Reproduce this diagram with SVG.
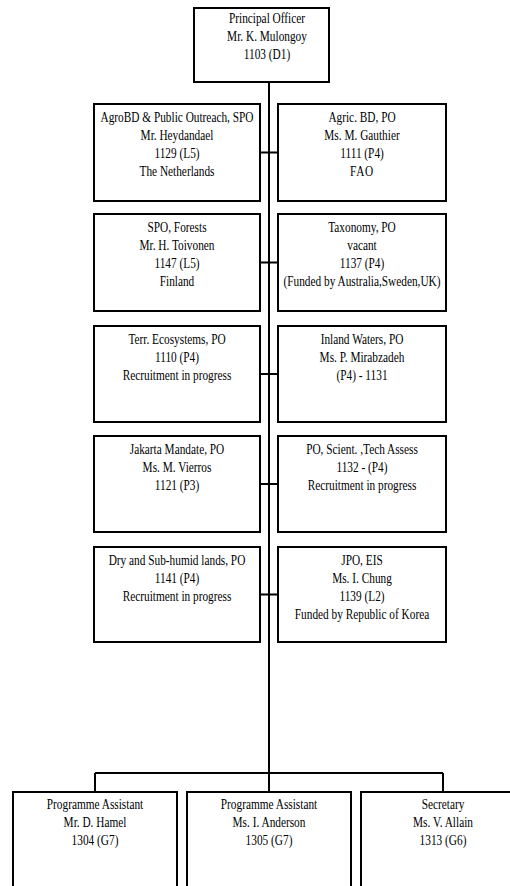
<svg xmlns="http://www.w3.org/2000/svg" width="510" height="886" viewBox="0 0 510 886">
<style>
.box{fill:#fff;stroke:#000;stroke-width:2}
.ln{fill:none;stroke:#000;stroke-width:2}
text{font-family:"Liberation Serif","Times New Roman",serif;font-size:14.5px;text-anchor:middle;fill:#000}
</style>
<rect width="510" height="886" fill="#fff"/>
<g id="connectors">
<path class="ln" d="M269,82 V773 M95,773 H443 M95,773 V792 M269,773 V792 M443,773 V792"/>
<path class="ln" d="M260,152.5 H278 M260,262.5 H278 M260,374 H278 M260,484 H278 M260,594.5 H278"/>
</g>
<g id="n_principal">
<rect class="box" x="194" y="8" width="135" height="74"/>
<g transform="translate(267,0) scale(0.78,1)"><text y="23">Principal Officer</text><text y="41">Mr. K. Mulongoy</text><text y="59">1103 (D1)</text></g>
</g>
<g id="n_agrobd">
<rect class="box" x="94" y="104" width="166" height="97"/>
<g transform="translate(177,0) scale(0.78,1)"><text y="122">AgroBD &amp; Public Outreach, SPO</text><text y="140">Mr. Heydandael</text><text y="158">1129 (L5)</text><text y="176">The Netherlands</text></g>
</g>
<g id="n_agric">
<rect class="box" x="278" y="104" width="168" height="97"/>
<g transform="translate(362,0) scale(0.78,1)"><text y="122">Agric. BD, PO</text><text y="140">Ms. M. Gauthier</text><text y="158">1111 (P4)</text><text y="176" letter-spacing="1">FAO</text></g>
</g>
<g id="n_forests">
<rect class="box" x="94" y="214" width="166" height="97"/>
<g transform="translate(177,0) scale(0.78,1)"><text y="232">SPO, Forests</text><text y="250">Mr. H. Toivonen</text><text y="268">1147 (L5)</text><text y="286">Finland</text></g>
</g>
<g id="n_taxonomy">
<rect class="box" x="278" y="214" width="168" height="97"/>
<g transform="translate(362,0) scale(0.78,1)"><text y="232">Taxonomy, PO</text><text y="250">vacant</text><text y="268">1137 (P4)</text><text y="286">(Funded by Australia,Sweden,UK)</text></g>
</g>
<g id="n_terr">
<rect class="box" x="94" y="326" width="166" height="96"/>
<g transform="translate(177,0) scale(0.78,1)"><text y="344">Terr. Ecosystems, PO</text><text y="362">1110 (P4)</text><text y="380">Recruitment in progress</text></g>
</g>
<g id="n_inland">
<rect class="box" x="278" y="326" width="168" height="96"/>
<g transform="translate(362,0) scale(0.78,1)"><text y="344">Inland Waters, PO</text><text y="362">Ms. P. Mirabzadeh</text><text y="380">(P4) - 1131</text></g>
</g>
<g id="n_jakarta">
<rect class="box" x="94" y="436" width="166" height="96"/>
<g transform="translate(177,0) scale(0.78,1)"><text y="454">Jakarta Mandate, PO</text><text y="472">Ms. M. Vierros</text><text y="490">1121 (P3)</text></g>
</g>
<g id="n_scient">
<rect class="box" x="278" y="436" width="168" height="96"/>
<g transform="translate(362,0) scale(0.78,1)"><text y="454">PO, Scient. ,Tech Assess</text><text y="472">1132 - (P4)</text><text y="490">Recruitment in progress</text></g>
</g>
<g id="n_dry">
<rect class="box" x="94" y="547" width="166" height="95"/>
<g transform="translate(177,0) scale(0.78,1)"><text y="565">Dry and Sub-humid lands, PO</text><text y="583">1141 (P4)</text><text y="601">Recruitment in progress</text></g>
</g>
<g id="n_jpo">
<rect class="box" x="278" y="547" width="168" height="95"/>
<g transform="translate(362,0) scale(0.78,1)"><text y="565">JPO, EIS</text><text y="583">Ms. I. Chung</text><text y="601">1139 (L2)</text><text y="619">Funded by Republic of Korea</text></g>
</g>
<g id="n_hamel">
<rect class="box" x="13" y="792" width="164" height="110"/>
<g transform="translate(95,0) scale(0.78,1)"><text y="809">Programme Assistant</text><text y="827">Mr. D. Hamel</text><text y="845">1304 (G7)</text></g>
</g>
<g id="n_anderson">
<rect class="box" x="187" y="792" width="164" height="110"/>
<g transform="translate(269,0) scale(0.78,1)"><text y="809">Programme Assistant</text><text y="827">Ms. I. Anderson</text><text y="845">1305 (G7)</text></g>
</g>
<g id="n_allain">
<rect class="box" x="361" y="792" width="164" height="110"/>
<g transform="translate(443,0) scale(0.78,1)"><text y="809">Secretary</text><text y="827">Ms. V. Allain</text><text y="845">1313 (G6)</text></g>
</g>
</svg>
